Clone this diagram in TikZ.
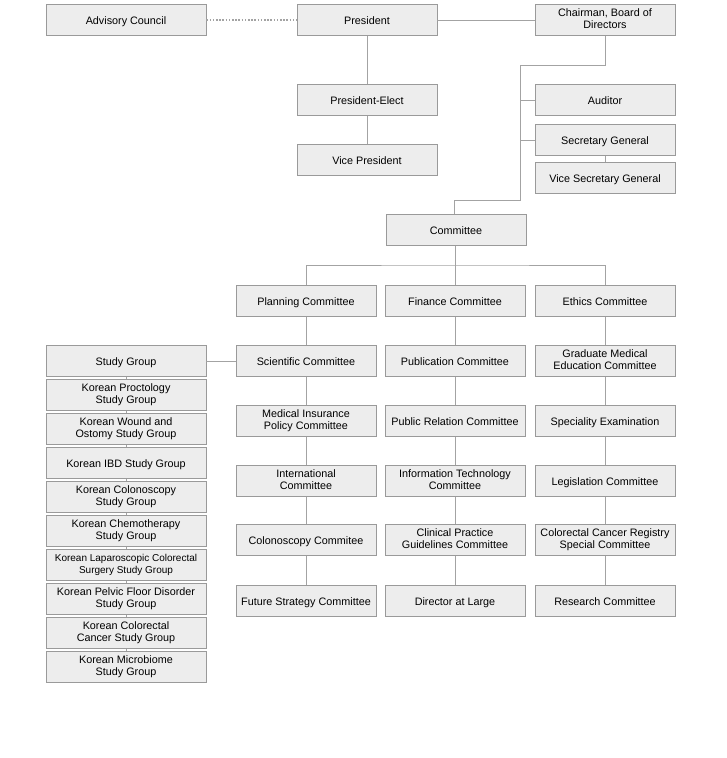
\documentclass[tikz,border=0pt]{standalone}
\usepackage{fontspec}
\setmainfont{Liberation Sans}
\usetikzlibrary{positioning, calc}
\definecolor{boxfill}{HTML}{EDEDED}
\definecolor{boxline}{HTML}{9A9A9A}
\definecolor{linkgray}{HTML}{A3A3A3}

\begin{document}
\begin{tikzpicture}[
  x=0.75pt, y=-0.75pt,
  box/.style={
    rectangle, draw=boxline, fill=boxfill, line width=0.7pt,
    minimum width=105pt, minimum height=23pt, inner sep=1pt,
    execute at begin node={\rule{0pt}{1.1em}}, text depth=0.2em,
    font=\fontsize{8.1}{8.9}\selectfont, align=center
  },
  grp/.style={box, minimum width=120pt},
  link/.style={draw=linkgray, line width=0.7pt}
]
  \useasboundingbox (0,0) rectangle (727,758);

  % top
  \node[grp] (adv) at (126,20) {Advisory Council};
  \node[box] (pres) at (367,20) {President};
  \node[box] (chair) at (605,20) {Chairman, Board of\\Directors};
  \node[box] (elect) at (367,100) {President-Elect};
  \node[box] (vice) at (367,160) {Vice President};
  \node[box] (audit) at (605,100) {Auditor};
  \node[box] (secg) at (605,140) {Secretary General};
  \node[box] (vsecg) at (605,178) {Vice Secretary General};
  \node[box] (comm) at (456,230) {Committee};

  % committees
  \node[box] (plan) at (306,301) {Planning Committee};
  \node[box] (fin) at (455,301) {Finance Committee};
  \node[box] (eth) at (605,301) {Ethics Committee};

  \node[box] (sci) at (306,361) {Scientific Committee};
  \node[box] (ins) at (306,421) {Medical Insurance\\Policy Committee};
  \node[box] (intl) at (306,481) {International\\Committee};
  \node[box] (colo) at (306,540) {Colonoscopy Commitee};
  \node[box] (fut) at (306,601) {Future Strategy Committee};

  \node[box] (pub) at (455,361) {Publication Committee};
  \node[box] (prc) at (455,421) {Public Relation Committee};
  \node[box] (itc) at (455,481) {Information Technology\\Committee};
  \node[box] (cpg) at (455,540) {Clinical Practice\\Guidelines Committee};
  \node[box] (dal) at (455,601) {Director at Large};

  \node[box] (gme) at (605,361) {Graduate Medical\\Education Committee};
  \node[box] (spe) at (605,421) {Speciality Examination};
  \node[box] (leg) at (605,481) {Legislation Committee};
  \node[box] (ccr) at (605,540) {Colorectal Cancer Registry\\Special Committee};
  \node[box] (res) at (605,601) {Research Committee};

  % study groups
  \node[grp] (sg) at (126,361) {Study Group};
  \node[grp] (sg1) at (126,395) {Korean Proctology\\Study Group};
  \node[grp] (sg2) at (126,429) {Korean Wound and\\Ostomy Study Group};
  \node[grp] (sg3) at (126,463) {Korean IBD Study Group};
  \node[grp] (sg4) at (126,497) {Korean Colonoscopy\\Study Group};
  \node[grp] (sg5) at (126,531) {Korean Chemotherapy\\Study Group};
  \node[grp, font=\fontsize{7.5}{8.9}\selectfont] (sg6) at (126,565) {Korean Laparoscopic Colorectal\\Surgery Study Group};
  \node[grp] (sg7) at (126,599) {Korean Pelvic Floor Disorder\\Study Group};
  \node[grp] (sg8) at (126,633) {Korean Colorectal\\Cancer Study Group};
  \node[grp] (sg9) at (126,667) {Korean Microbiome\\Study Group};

  \coordinate (bend1) at (520,65);
  \coordinate (bend2) at (520,200);
  \coordinate (bar) at (455,265);

  % links
  \draw[link, line width=1pt, dash pattern=on 1.2pt off 1.2pt] (adv) -- (pres);
  \draw[link] (pres) -- (chair);
  \draw[link] (pres) -- (elect) -- (vice);
  \draw[link] (chair.south) |- (bend1) -- (bend2) -| (comm.north -| 454,0);
  \draw[link] (audit.west) -- (audit.west -| bend1);
  \draw[link] (secg.west) -- (secg.west -| bend1);
  \draw[link] (secg) -- (vsecg);
  \draw[link] (comm.south -| bar) -- (bar);
  \draw[link] (plan.north) |- (bar) -| (eth.north);
  \draw[link] (bar) -- (fin);
  \draw[link] (plan) -- (sci) -- (ins) -- (intl) -- (colo) -- (fut);
  \draw[link] (fin) -- (pub) -- (prc) -- (itc) -- (cpg) -- (dal);
  \draw[link] (eth) -- (gme) -- (spe) -- (leg) -- (ccr) -- (res);
  \draw[link] (sg) -- (sci);
  \foreach \a/\b in {sg/sg1, sg1/sg2, sg2/sg3, sg3/sg4, sg4/sg5, sg5/sg6, sg6/sg7, sg7/sg8, sg8/sg9}
    \draw[link] (\a) -- (\b);
\end{tikzpicture}
\end{document}
